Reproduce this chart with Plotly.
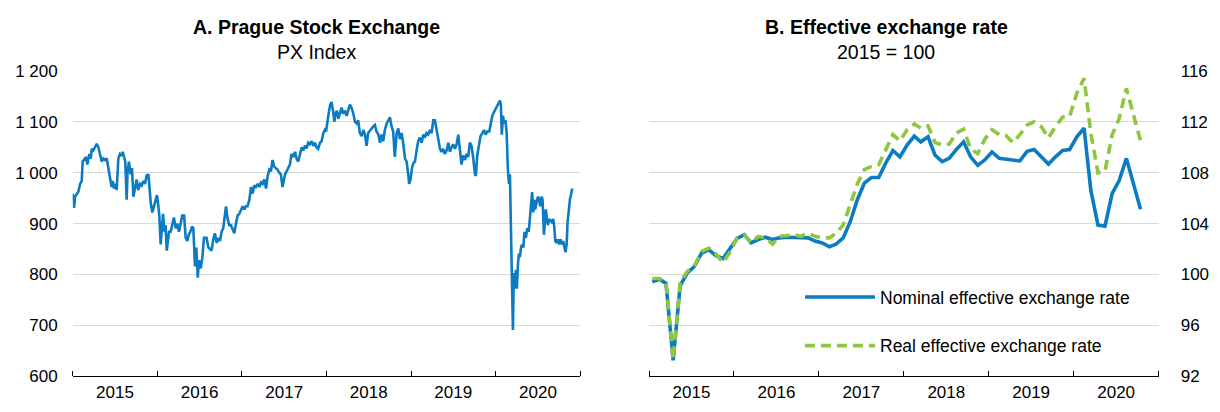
import pandas as pd
import plotly.graph_objects as go

# ---------------- Panel A: PX index (days since 2015-01-01, index level) ----------------
px_days = [
    0, 6, 10, 17, 24, 32, 39, 43, 49, 58, 63, 72, 78, 82, 89, 96, 104, 111, 118, 125,
    132, 140, 147, 154, 161, 168, 173, 178, 186, 190, 197, 204, 212, 216, 222, 227, 233, 237, 243, 250,
    256, 262, 269, 276, 283, 291, 298, 305, 312, 319, 327, 331, 337, 344, 351, 358, 364, 370, 374, 380,
    386, 390, 396, 401, 406, 410, 416, 423, 430, 437, 445, 452, 459, 466, 473, 481, 488, 495, 501, 508,
    515, 521, 528, 534, 540, 545, 553, 560, 567,
    578, 586, 593, 600, 607, 614, 622, 629, 636, 643, 650, 658, 662, 669, 676, 683, 691, 698, 705, 712,
    719, 727, 734, 741, 748, 755, 763, 770, 777, 784, 791, 799, 806, 813, 820, 827, 835, 842, 849, 856,
    863, 870, 878, 885, 892, 899, 906, 911, 917, 924, 931, 938, 945, 953, 960, 967, 974, 981, 989, 996,
    1003, 1010, 1017, 1024, 1032, 1039, 1046, 1053, 1060, 1068, 1075, 1082, 1089, 1094, 1099, 1105, 1112, 1118, 1124, 1130,
    1135, 1141, 1147, 1154, 1161, 1168, 1176, 1183, 1190, 1197, 1204, 1212, 1219,
    1226, 1233, 1240, 1248, 1255, 1262, 1269, 1276, 1284, 1291, 1298, 1305, 1312, 1320, 1327, 1334, 1341, 1348, 1356, 1363,
    1370, 1377, 1384, 1391, 1399, 1406, 1413, 1420, 1427, 1435, 1442, 1449, 1453, 1459, 1465, 1471, 1478, 1485, 1492, 1499,
    1507, 1514, 1521, 1528, 1535, 1543, 1550, 1557, 1564, 1568, 1574, 1580, 1586, 1593, 1600, 1607, 1615, 1622, 1629, 1636,
    1643, 1651, 1658, 1665, 1672, 1679, 1686, 1694, 1701, 1708, 1715, 1722, 1730, 1737, 1741, 1747, 1754, 1761, 1769, 1776,
    1783, 1790, 1799, 1805, 1812, 1819,
    1830, 1838, 1845, 1849, 1853, 1858, 1863, 1869, 1874, 1879, 1884, 1888, 1892, 1897, 1901, 1905, 1910, 1914, 1918, 1923,
    1927, 1931, 1936, 1941, 1946, 1951, 1957, 1963, 1969, 1974, 1980, 1984, 1989, 1993, 1997, 2003, 2009, 2015, 2019, 2025,
    2029, 2035, 2039, 2043, 2048, 2052, 2058, 2064, 2069, 2075, 2079, 2084, 2089, 2095, 2101, 2107, 2113, 2118, 2124, 2128,
    2133, 2137, 2143, 2147, 2153, 2157,
]
px_values = [
    959, 931, 953, 959, 962, 978, 984, 1022, 1025, 1031, 1016, 1037, 1028, 1047, 1044, 1050, 1057, 1050, 1034, 1022,
    1028, 1025, 1028, 1009, 997, 972, 984, 969, 978, 966, 1028, 1037, 1033, 1041, 1031, 1022, 947, 1003, 1022, 997,
    1009, 953, 969, 987, 966, 978, 975, 984, 978, 994, 997, 972, 941, 922, 934, 947, 956, 934, 916, 859,
    891, 919, 884, 897, 847, 859, 884, 884, 897, 912, 891, 900, 884, 903, 916, 916, 872, 866, 878, 884,
    894, 891, 816, 853, 794, 828, 812, 834, 872,
    872, 853, 850, 847, 869, 881, 862, 872, 866, 884, 891, 928, 934, 909, 897, 897, 887, 881, 900, 916,
    919, 928, 934, 928, 934, 934, 947, 972, 959, 975, 972, 978, 972, 981, 978, 987, 969, 994, 1006, 1003,
    1025, 1012, 1009, 1006, 1000, 997, 972, 981, 997, 1003, 1009, 1016, 1037, 1031, 1041, 1028, 1022, 1034, 1050, 1044,
    1053, 1048, 1059, 1056, 1062, 1053, 1059, 1050, 1047, 1059, 1062, 1078, 1084, 1081, 1103, 1116, 1134, 1139, 1122, 1100,
    1116, 1122, 1106, 1119, 1128, 1116, 1122, 1112, 1125, 1134, 1128, 1116, 1100,
    1097, 1103, 1078, 1072, 1084, 1075, 1053, 1078, 1084, 1087, 1091, 1094, 1081, 1075, 1059, 1075, 1062, 1084, 1097, 1103,
    1109, 1091, 1081, 1031, 1078, 1087, 1066, 1078, 1059, 1028, 1022, 997, 978, 987, 1009, 1019, 1022, 1044, 1062, 1069,
    1059, 1075, 1069, 1078, 1075, 1084, 1078, 1103, 1103, 1094, 1078, 1069, 1047, 1041, 1047, 1037, 1044, 1059, 1041, 1050,
    1056, 1047, 1056, 1075, 1041, 1016, 1034, 1025, 1037, 1031, 1059, 1053, 1028, 997, 994, 1034, 1053, 1072, 1078, 1084,
    1075, 1081, 1081, 1094, 1112, 1119,
    1128, 1137, 1142, 1134, 1075, 1112, 1097, 1103, 1078, 1009, 978, 997, 909, 809, 691, 803, 772, 809, 772, 822,
    841, 834, 853, 859, 853, 884, 872, 891, 884, 909, 934, 962, 922, 947, 928, 941, 953, 947, 934, 953,
    947, 878, 909, 928, 909, 897, 909, 906, 903, 909, 897, 866, 862, 869, 859, 869, 859, 866, 856, 844,
    859, 903, 928, 947, 959, 969,
]
px_dates = pd.Timestamp("2015-01-01") + pd.to_timedelta(px_days, unit="D")

# ---------------- Panel B: effective exchange rates, monthly, 2015 = 100 ----------------
eer_dates = [f"{y}-{m:02d}-15" for y in range(2015, 2021) for m in range(1, 13)][:70]
neer = [
    99.43, 99.63, 99.30, 93.25, 99.13, 100.13, 100.63, 101.68, 101.93, 101.50,
    101.25, 102.08, 102.83, 103.13, 102.50, 102.75, 102.93, 102.75, 102.88, 102.93,
    102.93, 102.93, 102.88, 102.63, 102.48, 102.18, 102.38, 102.88, 104.13, 105.88,
    107.18, 107.63, 107.63, 108.75, 109.75, 109.25, 110.18, 110.88, 110.43, 110.83,
    109.38, 108.88, 109.13, 109.83, 110.43, 109.25, 108.58, 109.00, 109.63, 109.13,
    109.08, 109.03, 108.93, 109.68, 109.83, 109.25, 108.68, 109.25, 109.75, 109.83,
    110.83, 111.50, 106.63, 103.88, 103.80, 106.38, 107.38, 109.13, 107.13, 105.13,
]
reer = [
    99.68, 99.68, 99.38, 93.30, 99.38, 100.25, 100.68, 101.80, 102.08, 101.63,
    100.93, 101.75, 102.88, 103.08, 102.50, 103.00, 102.88, 102.38, 103.00, 103.08,
    103.13, 103.00, 103.25, 103.00, 102.88, 102.88, 103.25, 103.88, 105.38, 107.13,
    108.25, 108.50, 108.63, 109.88, 111.00, 110.50, 111.38, 111.83, 111.50, 111.68,
    110.38, 110.18, 110.25, 111.13, 111.43, 109.88, 109.50, 110.63, 111.38, 111.00,
    110.93, 110.38, 111.00, 111.75, 112.00, 111.63, 110.75, 111.63, 112.38, 112.43,
    114.25, 115.43, 111.13, 108.00, 108.13, 111.00, 112.25, 114.63, 112.63, 110.50,
]

px_ticks = [600, 700, 800, 900, 1000, 1100, 1200]
px_ticktext = ["600", "700", "800", "900", "1 000", "1 100", "1 200"]
eer_ticks = [92, 96, 100, 104, 108, 112, 116]

BLUE = "#0b7cc1"
GREEN = "#8dc63f"
GRID = "#d9d9d9"
FONT = "Liberation Sans, Arial, sans-serif"
W, H = 1220, 412

fig = go.Figure()
fig.add_trace(go.Scatter(x=px_dates, y=px_values, mode="lines", xaxis="x", yaxis="y",
                         line=dict(color=BLUE, width=2.6), showlegend=False, name="PX Index"))
fig.add_trace(go.Scatter(x=eer_dates, y=neer, mode="lines", xaxis="x2", yaxis="y2",
                         line=dict(color=BLUE, width=3.6), name="Nominal effective exchange rate",
                         legend="legend"))
fig.add_trace(go.Scatter(x=eer_dates, y=reer, mode="lines", xaxis="x2", yaxis="y2",
                         line=dict(color=GREEN, width=3.6, dash="10px,6px"),
                         name="Real effective exchange rate", legend="legend2"))

ydom = [1 - 385 / H, 1 - 65 / H]
xcommon = dict(type="date", range=["2015-01-01", "2021-01-01"], dtick="M12", tick0="2015-01-01",
               tickformat="%Y", ticklabelmode="period", ticks="inside", ticklen=5, tickwidth=1.3,
               tickcolor="black", showline=True, linecolor="black", linewidth=1.3, showgrid=False,
               zeroline=False, tickfont=dict(size=17, color="black", family=FONT), fixedrange=True)
ycommon = dict(showgrid=True, gridcolor=GRID, gridwidth=1.3, zeroline=False, showline=False,
               ticks="", tickfont=dict(size=17, color="black", family=FONT), domain=ydom, fixedrange=True)

leg_common = dict(xref="paper", yref="paper", xanchor="left", yanchor="middle",
                  bgcolor="rgba(0,0,0,0)", borderwidth=0, itemwidth=70,
                  font=dict(size=17.5, color="black", family=FONT))

fig.update_layout(
    width=W, height=H, margin=dict(l=0, r=0, t=0, b=0),
    paper_bgcolor="white", plot_bgcolor="white",
    font=dict(family=FONT, color="black"),
    xaxis=dict(domain=[72.7 / W, 580.3 / W], anchor="y", **xcommon),
    yaxis=dict(range=[600, 1200], tickvals=px_ticks, ticktext=px_ticktext, anchor="x", side="left",
               ticklabelstandoff=14, **ycommon),
    xaxis2=dict(domain=[649 / W, 1158.7 / W], anchor="y2", **xcommon),
    yaxis2=dict(range=[92, 116], tickvals=eer_ticks, anchor="x2", side="right",
                ticklabelstandoff=21, **ycommon),
    legend=dict(x=800 / W, y=1 - 302 / H, **leg_common),
    legend2=dict(x=800 / W, y=1 - 353 / H, **leg_common),
    annotations=[
        dict(text="<b>A. Prague Stock Exchange</b>", x=316 / W, y=1 - 19 / H, xref="paper", yref="paper",
             xanchor="center", yanchor="middle", showarrow=False, font=dict(size=19.5, family=FONT)),
        dict(text="PX Index", x=316 / W, y=1 - 45 / H, xref="paper", yref="paper",
             xanchor="center", yanchor="middle", showarrow=False, font=dict(size=19.5, family=FONT)),
        dict(text="<b>B. Effective exchange rate</b>", x=886 / W, y=1 - 19 / H, xref="paper", yref="paper",
             xanchor="center", yanchor="middle", showarrow=False, font=dict(size=19.5, family=FONT)),
        dict(text="2015 = 100", x=886 / W, y=1 - 45 / H, xref="paper", yref="paper",
             xanchor="center", yanchor="middle", showarrow=False, font=dict(size=19.5, family=FONT)),
    ],
)

fig.write_html("out.html", config={"displayModeBar": False},
               post_script="document.body.style.margin='0px';document.body.style.overflow='hidden';")
